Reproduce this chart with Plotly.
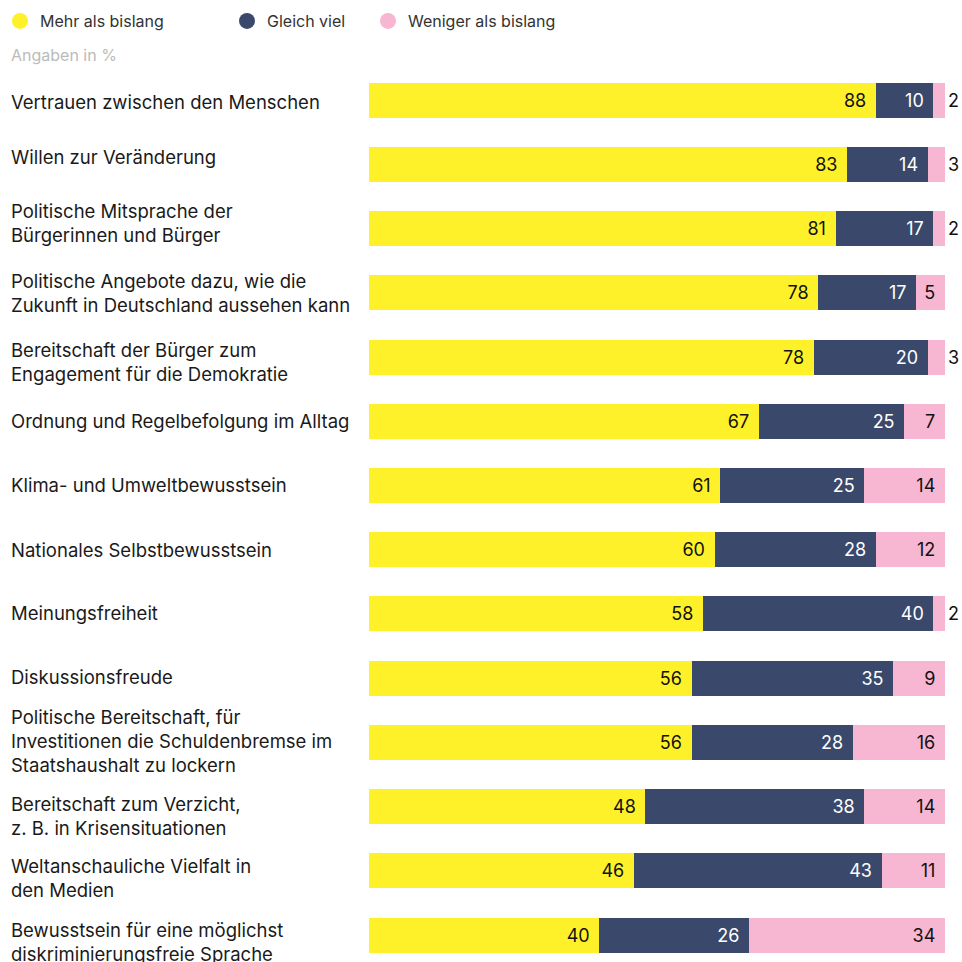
import plotly.graph_objects as go

categories = [
    "Vertrauen zwischen den Menschen",
    "Willen zur Veränderung",
    "Politische Mitsprache der<br>Bürgerinnen und Bürger",
    "Politische Angebote dazu, wie die<br>Zukunft in Deutschland aussehen kann",
    "Bereitschaft der Bürger zum<br>Engagement für die Demokratie",
    "Ordnung und Regelbefolgung im Alltag",
    "Klima- und Umweltbewusstsein",
    "Nationales Selbstbewusstsein",
    "Meinungsfreiheit",
    "Diskussionsfreude",
    "Politische Bereitschaft, für<br>Investitionen die Schuldenbremse im<br>Staatshaushalt zu lockern",
    "Bereitschaft zum Verzicht,<br>z. B. in Krisensituationen",
    "Weltanschauliche Vielfalt in<br>den Medien",
    "Bewusstsein für eine möglichst<br>diskriminierungsfreie Sprache",
]
mehr = [88, 83, 81, 78, 78, 67, 61, 60, 58, 56, 56, 48, 46, 40]
gleich = [10, 14, 17, 17, 20, 25, 25, 28, 40, 35, 28, 38, 43, 26]
weniger = [2, 3, 2, 5, 3, 7, 14, 12, 2, 9, 16, 14, 11, 34]

series_names = ["Mehr als bislang", "Gleich viel", "Weniger als bislang"]
colors = ["#FEF12A", "#3A496B", "#F7B6D2"]
text_colors = ["#111111", "#FFFFFF", "#111111"]

# small vertical nudges of the category labels (px, downwards) as in the original layout
label_nudge_px = [1.5, -7, -5.5, 0, 5, 0, 0, 0, -1, -1, -1, 9, 7.5, 6.5]

FONT = "Inter"
PAD = "\u00a0\u200a"

fig = go.Figure()
for name, vals, col, tc in zip(series_names, [mehr, gleich, weniger], colors, text_colors):
    is_last = name == series_names[-1]
    positions = ["outside" if (is_last and v <= 3) else "inside" for v in vals]
    texts = [str(v) + ("" if p == "outside" else PAD) for v, p in zip(vals, positions)]
    fig.add_trace(go.Bar(
        y=categories, x=vals, orientation="h", name=name,
        marker=dict(color=col, line=dict(width=0)),
        text=texts, textposition=positions, insidetextanchor="end",
        textangle=0, constraintext="none",
        insidetextfont=dict(color=tc, size=18, family=FONT),
        outsidetextfont=dict(color="#111111", size=18, family=FONT),
        cliponaxis=False, showlegend=False, hoverinfo="skip",
    ))

# legend-only entries (round markers)
legend_x_px = [0, 227, 368]
for i, (name, col) in enumerate(zip(series_names, colors)):
    lg = "legend" if i == 0 else f"legend{i+1}"
    fig.add_trace(go.Scatter(
        x=[None], y=[None], mode="markers", name=name,
        marker=dict(color=col, size=18, symbol="circle"),
        legend=lg, showlegend=True,
    ))

W, H = 962, 962
ML, MR, MT, MB = 369, 17, 68, 0
PW = W - ML - MR
PH = H - MT - MB

def px_x(px):
    return (px - ML) / PW

def px_y(py):
    return 1 - (py - MT) / PH

legend_common = dict(
    xref="container", yref="container", yanchor="middle", xanchor="left",
    orientation="h", bgcolor="rgba(0,0,0,0)", borderwidth=0,
    font=dict(family=FONT, size=16, color="#333333"),
)
layout_legends = {}
for i, lx in enumerate(legend_x_px):
    key = "legend" if i == 0 else f"legend{i+1}"
    layout_legends[key] = dict(x=lx / W, y=1 - 21 / H, **legend_common)

annotations = []
for cat, dy in zip(categories, label_nudge_px):
    annotations.append(dict(
        x=px_x(9), xref="paper", y=cat, yref="y", yshift=-dy,
        text=cat, showarrow=False, xanchor="left", yanchor="middle", align="left",
        font=dict(family=FONT, size=18.5, color="#1a1a1a"),
    ))
annotations.append(dict(
    x=px_x(9), xref="paper", y=px_y(55), yref="paper",
    text="Angaben in %", showarrow=False, xanchor="left", yanchor="middle",
    font=dict(family=FONT, size=16, color="#BBBBBB"),
))

fig.update_layout(
    width=W, height=H,
    margin=dict(l=ML, r=MR, t=MT, b=MB, pad=0),
    barmode="stack", barnorm="percent", bargap=0.455,
    plot_bgcolor="white", paper_bgcolor="white",
    font=dict(family=FONT, size=18, color="#1a1a1a"),
    xaxis=dict(range=[0, 100.001], visible=False, fixedrange=True),
    yaxis=dict(range=[13.42, -0.5], showticklabels=False, showgrid=False,
               zeroline=False, showline=False, ticks="", fixedrange=True),
    annotations=annotations,
    **layout_legends,
)

fig.write_html(
    "out.html",
    config={"displayModeBar": False},
    post_script="document.body.style.margin='0';document.body.style.overflow='hidden';",
)
